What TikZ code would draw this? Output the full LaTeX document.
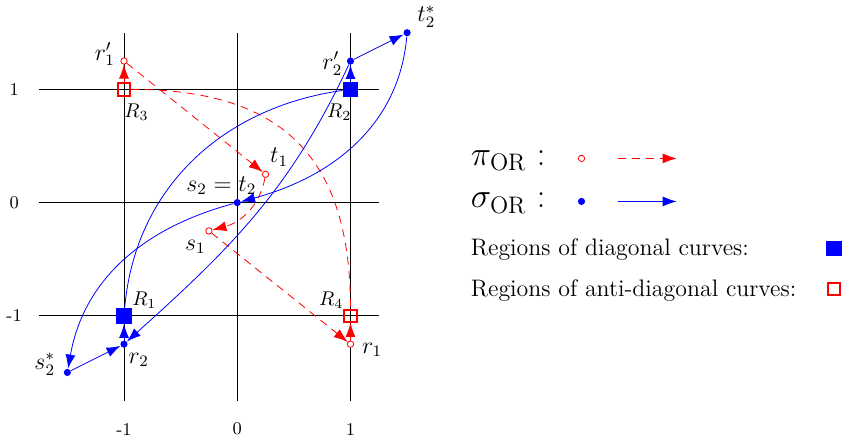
\documentclass[tikz,border=0pt]{standalone}
\usetikzlibrary{arrows.meta}
\begin{document}
\begin{tikzpicture}[
    x=2cm,
    y=2cm,
    >={Latex[length=7pt,width=5pt]},
    eje/.style={black},
    pimark/.style={circle,draw=red,fill=white,inner sep=0pt,minimum size=3.2pt},
    sigmamark/.style={circle,fill=blue,inner sep=0pt,minimum size=3.6pt},
    diagbox/.style={rectangle,fill=blue,inner sep=0pt,minimum size=7.8pt},
    antibox/.style={rectangle,draw=red,line width=1pt,inner sep=0pt,minimum size=6.2pt},
    pipath/.style={red,dash pattern=on 4pt off 3pt},
    sigmapath/.style={blue},
    tag/.style={font=\large,inner sep=0pt},
    regtag/.style={font=\normalsize,inner sep=0pt},
    ticklbl/.style={font=\small,inner sep=0pt},
    legtext/.style={anchor=base west,inner sep=0pt}
]
    \useasboundingbox (-2.095,-2.141) rectangle (5.358,1.789);

    % Rejilla y marcas
    \foreach \v in {-1,0,1}{
        \draw[eje] (-1.75,\v) -- (1.25,\v);
        \draw[eje] (\v,-1.75) -- (\v,1.5);
        \node[ticklbl] (tx\v) at (\v,-2) {\v};
        \node[ticklbl] (ty\v) at (-1.97,\v) {\v};
    }

    % Regiones
    \node[diagbox] (R1) at (-1,-1) {};
    \node[diagbox] (R2) at (1,1) {};
    \node[antibox] (R3) at (-1,1) {};
    \node[antibox] (R4) at (1,-1) {};
    \node[regtag] (lR1) at (-0.82,-0.86) {$R_1$};
    \node[regtag] (lR2) at (0.90,0.80) {$R_2$};
    \node[regtag] (lR3) at (-0.89,0.80) {$R_3$};
    \node[regtag] (lR4) at (0.83,-0.86) {$R_4$};

    % Puntos de pi
    \node[pimark] (r1p) at (-1,1.25) {};
    \node[pimark] (r1) at (1,-1.25) {};
    \node[pimark] (t1) at (0.25,0.25) {};
    \node[pimark] (s1) at (-0.25,-0.25) {};
    \node[tag] (lr1p) at (-1.17,1.31) {$r'_1$};
    \node[tag] (lr1) at (1.19,-1.30) {$r_1$};
    \node[tag] (lt1) at (0.37,0.40) {$t_1$};
    \node[tag] (ls1) at (-0.37,-0.39) {$s_1$};

    % Puntos de sigma
    \node[sigmamark] (r2p) at (1,1.25) {};
    \node[sigmamark] (r2) at (-1,-1.25) {};
    \node[sigmamark] (t2) at (0,0) {};
    \node[sigmamark] (t2s) at (1.5,1.5) {};
    \node[sigmamark] (s2s) at (-1.5,-1.5) {};
    \node[tag] (lr2p) at (0.84,1.23) {$r'_2$};
    \node[tag] (lr2) at (-0.87,-1.39) {$r_2$};
    \node[tag] (lt2) at (-0.14,0.15) {$s_2=t_2$};
    \node[tag] (lt2s) at (1.67,1.64) {$t^*_2$};
    \node[tag] (ls2s) at (-1.70,-1.43) {$s^*_2$};

    % Recorrido de pi
    \draw[pipath,->] (R3) -- (r1p);
    \draw[pipath,->] (r1p) -- (t1);
    \draw[pipath,->] (t1) to[out=-100,in=15] (s1);
    \draw[pipath,->] (s1) -- (r1);
    \draw[pipath,->] (r1) -- (R4);
    \draw[pipath] (R3) .. controls (0.4,1) and (1,0.4) .. (R4);

    % Recorrido de sigma
    \draw[sigmapath,->] (R2) -- (r2p);
    \draw[sigmapath,->] (r2p) -- (t2s);
    \draw[sigmapath,->] (t2s) to[out=-95,in=15] (t2);
    \draw[sigmapath,->] (t2) to[out=195,in=80] (s2s);
    \draw[sigmapath,->] (s2s) -- (r2);
    \draw[sigmapath,->] (r2) -- (R1);
    \draw[sigmapath] (R1) to[out=85,in=188] (R2);
    \draw[sigmapath,->] (r2p) to[out=-115,in=42] (r2);

    % Leyenda
    \node[legtext,font=\LARGE] (tpi) at (2.06,0.326) {$\pi_{\mathrm{OR}}$ :};
    \node[legtext,font=\LARGE] (tsig) at (2.06,-0.047) {$\sigma_{\mathrm{OR}}$ :};
    \node[pimark] (kpi) at (3.04,0.39) {};
    \node[sigmamark] (ksig) at (3.04,0.01) {};
    \coordinate (api) at (3.36,0.39);
    \coordinate (bpi) at (3.88,0.39);
    \coordinate (asig) at (3.36,0.01);
    \coordinate (bsig) at (3.88,0.01);
    \draw[pipath,->] (api) -- (bpi);
    \draw[sigmapath,->] (asig) -- (bsig);
    \node[legtext,font=\large] (tdiag) at (2.06,-0.467) {Regions of diagonal curves:};
    \node[diagbox] (kdiag) at (5.27,-0.405) {};
    \node[legtext,font=\large] (tanti) at (2.06,-0.826) {Regions of anti-diagonal curves:};
    \node[antibox] (kanti) at (5.27,-0.765) {};
\end{tikzpicture}
\end{document}
